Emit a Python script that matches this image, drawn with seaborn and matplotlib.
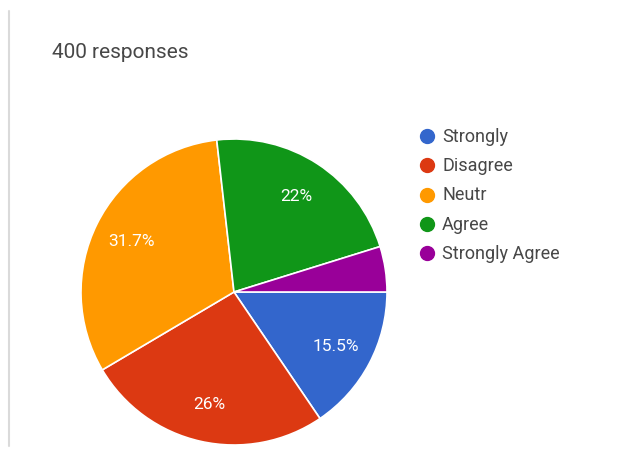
import matplotlib
matplotlib.use("Agg")
import matplotlib.pyplot as plt
from matplotlib.lines import Line2D
import seaborn as sns

# Survey answers (share of 400 responses, percent)
categories = ["Strongly", "Disagree", "Neutr", "Agree", "Strongly Agree"]
shares = [15.5, 26.0, 31.7, 22.0, 4.8]
colors = ["#3366cc", "#dc3912", "#ff9900", "#109618", "#990099"]
title_text = "400 responses"

sns.set_theme(style="white")
plt.rcParams["font.family"] = ["Roboto", "DejaVu Sans"]

W, H = 624, 477
fig = plt.figure(figsize=(W / 100, H / 100), dpi=100)
fig.patch.set_facecolor("white")

# pie axes: centre (234, 293) px, radius 153 px
cx, cy, r = 234, 293, 153
ax = fig.add_axes([(cx - r) / W, (H - cy - r) / H, 2 * r / W, 2 * r / H])
ax.set_facecolor("white")


def pct_label(p):
    if p < 5:
        return ""
    return f"{p:.1f}".rstrip("0").rstrip(".") + "%"


wedges, _, autotexts = ax.pie(
    shares,
    colors=colors,
    startangle=0,
    counterclock=False,
    radius=1.0,
    autopct=pct_label,
    pctdistance=0.75,
    wedgeprops=dict(edgecolor="white", linewidth=1.2),
    textprops=dict(color="white", fontsize=12.5),
)
ax.set_xlim(-1.0, 1.0)
ax.set_ylim(-1.0, 1.0)
ax.set_aspect("equal")
ax.axis("off")

# title
fig.text(52 / W, 1 - 52 / H, title_text, fontsize=15, color="#474747",
         ha="left", va="center")

# thin grey rule on the left edge
fig.add_artist(Line2D([8.5 / W, 8.5 / W], [1 - 12 / H, 1 - 447 / H],
                      color="#dadada", linewidth=1.5))

# legend: coloured dots with labels
y0, dy = 137, 29.25
for i, (lab, c) in enumerate(zip(categories, colors)):
    y = 1 - (y0 + i * dy) / H
    fig.add_artist(Line2D([427 / W], [y], marker="o", linestyle="none",
                          markersize=10, markerfacecolor=c, markeredgecolor=c))
    fig.text(442 / W, y, lab, fontsize=13, color="#474747",
             ha="left", va="center")

fig.savefig("out.png", dpi=100, facecolor="white")
